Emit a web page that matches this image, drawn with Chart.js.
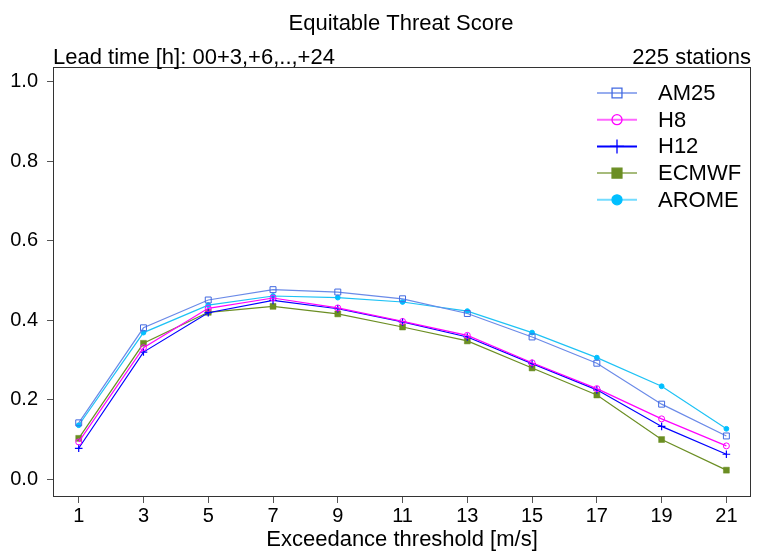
<!DOCTYPE html>
<html>
<head>
<meta charset="utf-8">
<script src="https://cdn.jsdelivr.net/npm/chart.js@4"></script>
<style>
  html, body { margin: 0; padding: 0; background: #fff; }
  canvas { display: block; }
</style>
</head>
<body>
<canvas id="chart-ets" width="758" height="554"></canvas>
<script>
const thresholds = [1, 3, 5, 7, 9, 11, 13, 15, 17, 19, 21];
const yTicks = [0.0, 0.2, 0.4, 0.6, 0.8, 1.0];
const am25Value = [0.142, 0.381, 0.451, 0.477, 0.471, 0.454, 0.417, 0.358, 0.292, 0.189, 0.109];
const h8Value = [0.094, 0.331, 0.430, 0.456, 0.431, 0.397, 0.362, 0.293, 0.228, 0.152, 0.084];
const h12Value = [0.078, 0.320, 0.419, 0.450, 0.429, 0.396, 0.358, 0.291, 0.225, 0.133, 0.063];
const ecmwfValue = [0.103, 0.342, 0.420, 0.435, 0.416, 0.383, 0.348, 0.280, 0.212, 0.100, 0.023];
const aromeValue = [0.136, 0.369, 0.438, 0.461, 0.457, 0.446, 0.423, 0.369, 0.306, 0.234, 0.127];

const FONT = "'Liberation Sans', Arial, Helvetica, sans-serif";
Chart.defaults.font.family = FONT;
Chart.defaults.color = '#000';

function pts(values) {
    return thresholds.map((t, i) => ({ x: t, y: values[i] }));
}

// legend marker styles (bigger than the plot ones)
const legendStyle = [
    { line: 'rgba(65,105,225,0.55)', radius: 7, fill: 'rgba(0,0,0,0)' },
    { line: 'rgba(255,0,255,0.6)', radius: 5, fill: 'rgba(0,0,0,0)' },
    { line: 'rgba(0,0,255,1)', radius: 7, fill: 'rgba(0,0,0,0)' },
    { line: 'rgba(107,142,35,0.6)', radius: 7, fill: '#6B8E23' },
    { line: 'rgba(0,191,255,0.55)', radius: 5, fill: '#00BFFF' }
];

const decorations = {
    id: 'decorations',
    afterDraw(chart) {
        const ctx = chart.ctx;
        const a = chart.chartArea;
        ctx.save();
        // box
        ctx.strokeStyle = '#333';
        ctx.lineWidth = 1;
        ctx.strokeRect(a.left + 0.5, a.top + 0.5, a.right - a.left - 1, a.bottom - a.top);
        // title and side notes
        ctx.fillStyle = '#000';
        ctx.textBaseline = 'alphabetic';
        ctx.font = '22px ' + FONT;
        ctx.textAlign = 'center';
        ctx.fillText('Equitable Threat Score', 401, 30);
        ctx.textAlign = 'left';
        ctx.fillText('Lead time [h]: 00+3,+6,..,+24', 53, 64);
        ctx.textAlign = 'right';
        ctx.fillText('225 stations', 751, 64);
        // legend
        ctx.font = '22px ' + FONT;
        ctx.textAlign = 'left';
        ctx.textBaseline = 'middle';
        chart.data.datasets.forEach((ds, i) => {
            const y = 93 + i * 26.7;
            const st = legendStyle[i];
            ctx.strokeStyle = st.line;
            ctx.lineWidth = 2;
            ctx.beginPath();
            ctx.moveTo(597, y);
            ctx.lineTo(637, y);
            ctx.stroke();
            ctx.strokeStyle = ds.pointBorderColor;
            ctx.fillStyle = st.fill;
            ctx.lineWidth = 1.3;
            Chart.helpers.drawPoint(ctx, {
                pointStyle: ds.pointStyle,
                radius: st.radius,
                rotation: 0,
                borderWidth: 1.3
            }, 617, y);
            ctx.fillStyle = '#000';
            ctx.fillText(ds.label, 658, y + 1);
        });
        ctx.restore();
    }
};

const ctxEts = document.getElementById('chart-ets').getContext('2d');

const chartEts = new Chart(ctxEts, {
    type: 'line',
    data: {
        datasets: [
            {
                label: 'AM25',
                data: pts(am25Value),
                borderColor: '#6A8AE8',
                borderWidth: 1.2,
                pointStyle: 'rect',
                pointRadius: 4.2,
                pointBorderWidth: 1,
                pointBorderColor: '#4169E1',
                pointBackgroundColor: 'rgba(0,0,0,0)',
                tension: 0,
                fill: false
            },
            {
                label: 'H8',
                data: pts(h8Value),
                borderColor: '#FF00FF',
                borderWidth: 1.2,
                pointStyle: 'circle',
                pointRadius: 3,
                pointBorderWidth: 1,
                pointBorderColor: '#FF00FF',
                pointBackgroundColor: 'rgba(0,0,0,0)',
                tension: 0,
                fill: false
            },
            {
                label: 'H12',
                data: pts(h12Value),
                borderColor: '#0000FF',
                borderWidth: 1.2,
                pointStyle: 'cross',
                pointRadius: 3.8,
                pointBorderWidth: 1.2,
                pointBorderColor: '#0000FF',
                pointBackgroundColor: '#0000FF',
                tension: 0,
                fill: false
            },
            {
                label: 'ECMWF',
                data: pts(ecmwfValue),
                borderColor: '#6B8E23',
                borderWidth: 1.2,
                pointStyle: 'rect',
                pointRadius: 4.2,
                pointBorderWidth: 0.5,
                pointBorderColor: '#6B8E23',
                pointBackgroundColor: '#6B8E23',
                tension: 0,
                fill: false
            },
            {
                label: 'AROME',
                data: pts(aromeValue),
                borderColor: '#1EC2F5',
                borderWidth: 1.2,
                pointStyle: 'circle',
                pointRadius: 2.4,
                pointBorderWidth: 1,
                pointBorderColor: '#00BFFF',
                pointBackgroundColor: '#00BFFF',
                tension: 0,
                fill: false
            }
        ]
    },
    options: {
        responsive: false,
        animation: false,
        devicePixelRatio: 1,
        events: [],
        layout: { padding: { top: 67, right: 7, left: 0, bottom: 0 } },
        plugins: {
            legend: { display: false },
            tooltip: { enabled: false }
        },
        scales: {
            x: {
                type: 'linear',
                min: 0.206,
                max: 21.76,
                afterFit: s => { s.height = 58; },
                afterBuildTicks: s => { s.ticks = thresholds.map(v => ({ value: v })); },
                border: { display: false },
                grid: { drawOnChartArea: false, drawTicks: true, tickLength: 7, color: '#555' },
                ticks: { font: { size: 20 }, padding: 1, maxRotation: 0, autoSkip: false },
                title: {
                    display: true,
                    text: 'Exceedance threshold [m/s]',
                    font: { size: 22 },
                    padding: { top: 0, bottom: 1 }
                }
            },
            y: {
                type: 'linear',
                min: -0.042,
                max: 1.037,
                afterFit: s => { s.width = 53; },
                afterBuildTicks: s => { s.ticks = yTicks.map(v => ({ value: v })); },
                border: { display: false },
                grid: { drawOnChartArea: false, drawTicks: true, tickLength: 6, color: '#555' },
                ticks: {
                    font: { size: 20 },
                    padding: 9,
                    callback: v => v.toFixed(1)
                }
            }
        }
    },
    plugins: [decorations]
});
</script>
</body>
</html>
